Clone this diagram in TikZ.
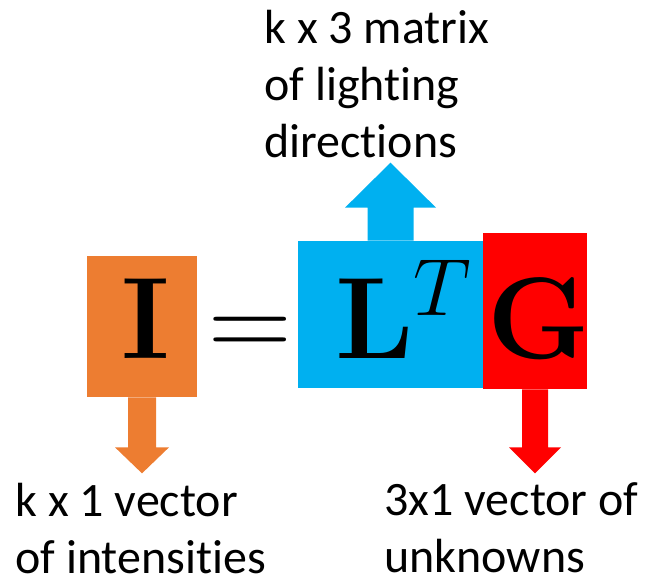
\RequirePackage{fix-cm}
\documentclass[tikz,border=0pt]{standalone}
\usepackage[no-math]{fontspec}
\setmainfont{Carlito}[Ligatures=NoCommon]
\usepackage{amsmath}
\usetikzlibrary{positioning}
\definecolor{ppOrange}{HTML}{ED7D31}
\definecolor{ppBlue}{HTML}{00B0F0}
\definecolor{ppRed}{HTML}{FF0000}
\begin{document}
\begin{tikzpicture}[x=0.02cm,y=-0.02cm,
  blk/.style={inner sep=0pt,draw=none},
  sym/.style={inner sep=0pt,anchor=base,font=\fontsize{66}{66}\selectfont},
  lbl/.style={inner sep=0pt,align=left,anchor=base west,font=\fontsize{27.3}{32.4}\selectfont}]
  \useasboundingbox (0,0) rectangle (650,579);
  % coloured blocks
  \node[blk,fill=ppOrange,minimum width=2.2cm,minimum height=2.82cm] (Ibox) at (142,326.5) {};
  \node[blk,fill=ppBlue,minimum width=3.7cm,minimum height=2.94cm] (Lbox) at (390.5,314.5) {};
  \node[blk,fill=ppRed,minimum width=2.08cm,minimum height=3.12cm] (Gbox) at (535,311) {};
  % the equation
  \node[sym] (I)  at (146,358) {$\mathbf{I}$};
  \node[sym] (eq) at (250.5,358) {$=$};
  \node[sym] (LT) at (404,358) {$\mathbf{L}^T$};
  \node[sym] (G)  at (538.5,358) {$\mathbf{G}$};
  % block arrows
  \fill[ppOrange] (Ibox.south) ++(-14,0) -- ++(0,50) -- ++(-13,0) -- ++(27,26) -- ++(27,-26) -- ++(-13,0) -- ++(0,-50) -- cycle;
  \fill[ppBlue] (Lbox.north) ++(-23,0) -- ++(0,-33) -- ++(-22.5,0) -- ++(45.5,-45) -- ++(45.5,45) -- ++(-22.5,0) -- ++(0,33) -- cycle;
  \fill[ppRed] (Gbox.south) ++(-13,0) -- ++(0,58) -- ++(-13,0) -- ++(26,26) -- ++(26,-26) -- ++(-13,0) -- ++(0,-58) -- cycle;
  % labels (base = last line)
  \node[lbl] (dirs)   at (264,157) {k x 3 matrix\\of lighting\\directions};
  \node[lbl] (intens) at (15,573)  {k x 1 vector\\of intensities};
  \node[lbl] (unk)    at (384,572) {3x1 vector of\\unknowns};
\end{tikzpicture}
\end{document}
